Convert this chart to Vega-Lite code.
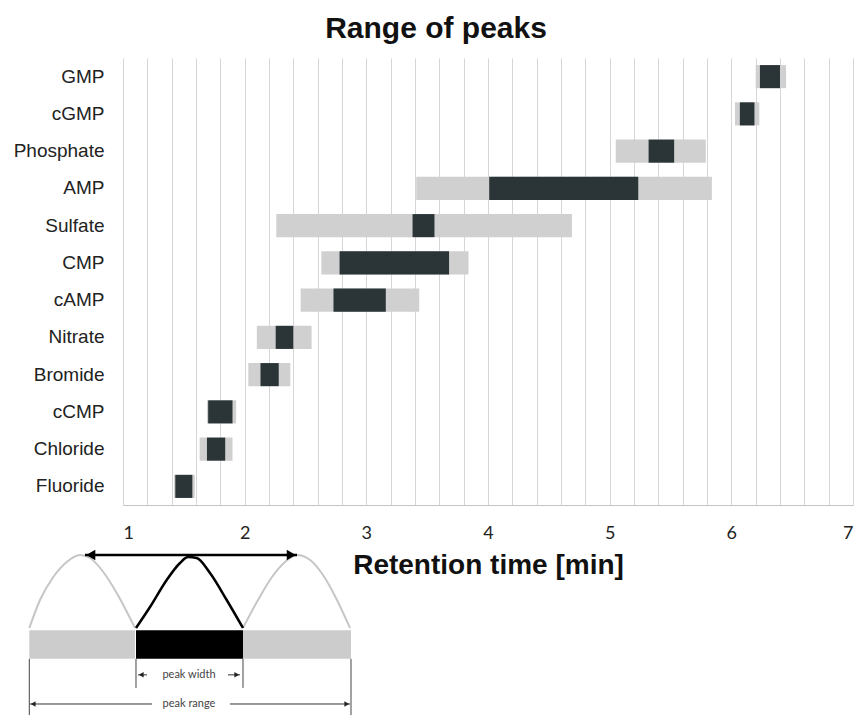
{
  "$schema": "https://vega.github.io/schema/vega-lite/v6.json",
  "width": 730,
  "height": 447,
  "autosize": {"type": "none"},
  "padding": {"left": 123, "top": 58, "right": 6, "bottom": 211},
  "background": "white",
  "config": {"view": {"stroke": null}},
  "title": {"text": "Range of peaks", "font": "Liberation Sans", "fontSize": 30, "fontWeight": "bold", "color": "#111111", "anchor": "middle", "dx": -52, "offset": 14},
  "datasets": {
    "peaks": [
      {"compound": "GMP", "r0": 6.20, "r1": 6.45, "w0": 6.235, "w1": 6.40},
      {"compound": "cGMP", "r0": 6.03, "r1": 6.23, "w0": 6.07, "w1": 6.19},
      {"compound": "Phosphate", "r0": 5.05, "r1": 5.79, "w0": 5.32, "w1": 5.53},
      {"compound": "AMP", "r0": 3.41, "r1": 5.84, "w0": 4.01, "w1": 5.235},
      {"compound": "Sulfate", "r0": 2.26, "r1": 4.69, "w0": 3.38, "w1": 3.56},
      {"compound": "CMP", "r0": 2.63, "r1": 3.84, "w0": 2.78, "w1": 3.68},
      {"compound": "cAMP", "r0": 2.46, "r1": 3.435, "w0": 2.73, "w1": 3.16},
      {"compound": "Nitrate", "r0": 2.10, "r1": 2.55, "w0": 2.255, "w1": 2.40},
      {"compound": "Bromide", "r0": 2.03, "r1": 2.375, "w0": 2.13, "w1": 2.28},
      {"compound": "cCMP", "r0": 1.69, "r1": 1.93, "w0": 1.70, "w1": 1.90},
      {"compound": "Chloride", "r0": 1.63, "r1": 1.90, "w0": 1.69, "w1": 1.84},
      {"compound": "Fluoride", "r0": 1.42, "r1": 1.59, "w0": 1.43, "w1": 1.57}
    ],
    "diaBars": [
      {"x1": 0.2299, "x2": 1.0986, "y1": 15.36, "y2": 16.13, "kind": "range"},
      {"x1": 1.9863, "x2": 2.8739, "y1": 15.36, "y2": 16.13, "kind": "range"},
      {"x1": 1.1068, "x2": 1.9863, "y1": 15.36, "y2": 16.13, "kind": "width"}
    ],
    "grayCurves": [
      {"curve": "a", "o": 1, "t": 0.2299, "h": 15.302},
      {"curve": "a", "o": 2, "t": 0.3178, "h": 14.550},
      {"curve": "a", "o": 3, "t": 0.4271, "h": 13.933},
      {"curve": "a", "o": 4, "t": 0.5373, "h": 13.530},
      {"curve": "a", "o": 5, "t": 0.6466, "h": 13.342},
      {"curve": "a", "o": 6, "t": 0.7288, "h": 13.423},
      {"curve": "a", "o": 7, "t": 0.8381, "h": 13.799},
      {"curve": "a", "o": 8, "t": 0.9482, "h": 14.362},
      {"curve": "a", "o": 9, "t": 1.0986, "h": 15.302},
      {"curve": "b", "o": 1, "t": 1.9863, "h": 15.302},
      {"curve": "b", "o": 2, "t": 2.1096, "h": 14.550},
      {"curve": "b", "o": 3, "t": 2.2246, "h": 13.933},
      {"curve": "b", "o": 4, "t": 2.3315, "h": 13.530},
      {"curve": "b", "o": 5, "t": 2.4301, "h": 13.342},
      {"curve": "b", "o": 6, "t": 2.5380, "h": 13.477},
      {"curve": "b", "o": 7, "t": 2.6438, "h": 13.879},
      {"curve": "b", "o": 8, "t": 2.7589, "h": 14.550},
      {"curve": "b", "o": 9, "t": 2.8657, "h": 15.302}
    ],
    "blackCurve": [
      {"o": 1, "t": 1.1068, "h": 15.302},
      {"o": 2, "t": 1.2219, "h": 14.738},
      {"o": 3, "t": 1.3592, "h": 14.013},
      {"o": 4, "t": 1.4685, "h": 13.557},
      {"o": 5, "t": 1.5342, "h": 13.396},
      {"o": 6, "t": 1.6057, "h": 13.423},
      {"o": 7, "t": 1.7151, "h": 13.826},
      {"o": 8, "t": 1.8523, "h": 14.550},
      {"o": 9, "t": 1.9863, "h": 15.302}
    ],
    "vLines": [
      {"x": 0.2299, "y1": 16.13, "y2": 17.64},
      {"x": 2.8739, "y1": 16.13, "y2": 17.64},
      {"x": 1.1068, "y1": 16.13, "y2": 16.91},
      {"x": 1.9863, "y1": 16.13, "y2": 16.91}
    ],
    "thinLines": [
      {"x1": 0.2356, "x2": 1.2383, "y": 17.342},
      {"x1": 1.8794, "x2": 2.8657, "y": 17.342},
      {"x1": 1.1233, "x2": 1.1973, "y": 16.56},
      {"x1": 1.8630, "x2": 1.9616, "y": 16.56}
    ],
    "bigArrow": [
      {"x1": 0.6877, "x2": 2.4301, "y": 13.342}
    ],
    "bigHeads": [
      {"x": 0.735, "y": 13.342, "dir": "left"},
      {"x": 2.383, "y": 13.342, "dir": "right"}
    ],
    "smallHeads": [
      {"x": 0.262, "y": 17.342, "dir": "left"},
      {"x": 2.839, "y": 17.342, "dir": "right"},
      {"x": 1.150, "y": 16.56, "dir": "left"},
      {"x": 1.935, "y": 16.56, "dir": "right"}
    ],
    "labels": [
      {"x": 1.5425, "y": 16.56, "label": "peak width"},
      {"x": 1.5425, "y": 17.342, "label": "peak range"}
    ]
  },
  "layer": [
    {
      "data": {"name": "peaks"},
      "encoding": {
        "y": {
          "field": "compound", "type": "nominal", "sort": null,
          "scale": {"paddingInner": 0.38, "paddingOuter": 0.19},
          "axis": {"title": null, "ticks": false, "domain": false, "labelFont": "Liberation Sans", "labelFontSize": 19, "labelColor": "#222222", "labelPadding": 19}
        }
      },
      "layer": [
        {
          "mark": {"type": "bar", "color": "#d0d0d0"},
          "encoding": {
            "x": {
              "field": "r0", "type": "quantitative",
              "scale": {"domain": [1, 7], "nice": false, "zero": false},
              "axis": {
                "title": "Retention time [min]",
                "values": [1, 1.2, 1.4, 1.6, 1.8, 2, 2.2, 2.4, 2.6, 2.8, 3, 3.2, 3.4, 3.6, 3.8, 4, 4.2, 4.4, 4.6, 4.8, 5, 5.2, 5.4, 5.6, 5.8, 6, 6.2, 6.4, 6.6, 6.8, 7],
                "tickCount": 100,
                "labelExpr": "datum.value == round(datum.value) ? format(datum.value, 'd') : ''",
                "labelOverlap": false,
                "labelBound": false,
                "grid": true, "gridColor": "#d6d6d6", "gridWidth": 1,
                "domain": true, "domainColor": "#c4c4c4",
                "ticks": false,
                "labelFont": "Lato", "labelFontSize": 18, "labelColor": "#222222", "labelPadding": 19,
                "titleFont": "Liberation Sans", "titleFontSize": 28, "titleFontWeight": "bold", "titleColor": "#111111", "titlePadding": 9
              }
            },
            "x2": {"field": "r1"}
          }
        },
        {
          "mark": {"type": "bar", "color": "#2b3537"},
          "encoding": {
            "x": {"field": "w0", "type": "quantitative"},
            "x2": {"field": "w1"}
          }
        }
      ]
    },
    {
      "encoding": {},
      "layer": [
        {
          "data": {"name": "diaBars"},
          "mark": {"type": "rect"},
          "encoding": {
            "x": {"field": "x1", "type": "quantitative", "scale": {"domain": [1, 7], "nice": false, "zero": false}, "axis": null},
            "x2": {"field": "x2"},
            "y": {"field": "y1", "type": "quantitative", "scale": {"domain": [0, 12], "reverse": true, "nice": false, "zero": false}, "axis": null},
            "y2": {"field": "y2"},
            "color": {"field": "kind", "type": "nominal", "scale": {"domain": ["range", "width"], "range": ["#cccccc", "#000000"]}, "legend": null}
          }
        },
        {
          "data": {"name": "grayCurves"},
          "mark": {"type": "line", "color": "#c6c6c6", "strokeWidth": 2, "interpolate": "monotone"},
          "encoding": {
            "x": {"field": "t", "type": "quantitative"},
            "y": {"field": "h", "type": "quantitative"},
            "detail": {"field": "curve"},
            "order": {"field": "o"}
          }
        },
        {
          "data": {"name": "blackCurve"},
          "mark": {"type": "line", "color": "#000000", "strokeWidth": 2.5, "interpolate": "monotone"},
          "encoding": {
            "x": {"field": "t", "type": "quantitative"},
            "y": {"field": "h", "type": "quantitative"},
            "order": {"field": "o"}
          }
        },
        {
          "data": {"name": "vLines"},
          "mark": {"type": "rule", "color": "#444444", "strokeWidth": 1},
          "encoding": {
            "x": {"field": "x", "type": "quantitative"},
            "y": {"field": "y1", "type": "quantitative"},
            "y2": {"field": "y2"}
          }
        },
        {
          "data": {"name": "thinLines"},
          "mark": {"type": "rule", "color": "#333333", "strokeWidth": 1},
          "encoding": {
            "x": {"field": "x1", "type": "quantitative"},
            "x2": {"field": "x2"},
            "y": {"field": "y", "type": "quantitative"}
          }
        },
        {
          "data": {"name": "bigArrow"},
          "mark": {"type": "rule", "color": "#000000", "strokeWidth": 2.5},
          "encoding": {
            "x": {"field": "x1", "type": "quantitative"},
            "x2": {"field": "x2"},
            "y": {"field": "y", "type": "quantitative"}
          }
        },
        {
          "data": {"name": "bigHeads"},
          "mark": {"type": "point", "filled": true, "color": "#000000", "size": 110, "opacity": 1},
          "encoding": {
            "x": {"field": "x", "type": "quantitative"},
            "y": {"field": "y", "type": "quantitative"},
            "shape": {"field": "dir", "type": "nominal", "scale": {"domain": ["left", "right"], "range": ["triangle-left", "triangle-right"]}, "legend": null}
          }
        },
        {
          "data": {"name": "smallHeads"},
          "mark": {"type": "point", "filled": true, "color": "#222222", "size": 30, "opacity": 1},
          "encoding": {
            "x": {"field": "x", "type": "quantitative"},
            "y": {"field": "y", "type": "quantitative"},
            "shape": {"field": "dir", "type": "nominal", "legend": null}
          }
        },
        {
          "data": {"name": "labels"},
          "mark": {"type": "text", "font": "Lato", "fontSize": 11, "color": "#444444", "align": "center", "baseline": "middle"},
          "encoding": {
            "x": {"field": "x", "type": "quantitative"},
            "y": {"field": "y", "type": "quantitative"},
            "text": {"field": "label"}
          }
        }
      ]
    }
  ],
  "resolve": {"scale": {"x": "independent", "y": "independent", "color": "independent", "shape": "independent"}}
}
